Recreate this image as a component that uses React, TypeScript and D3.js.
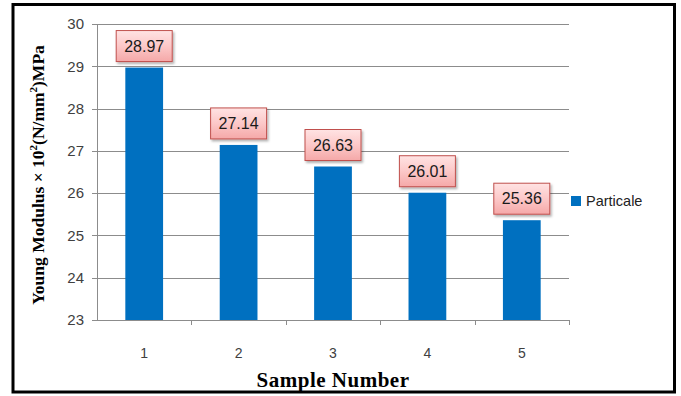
import React from "react";
import * as d3 from "d3";

const categories = ["1", "2", "3", "4", "5"];
const values = [28.97, 27.14, 26.63, 26.01, 25.36];
const yTicks = [23, 24, 25, 26, 27, 28, 29, 30];
const seriesName = "Particale";

const W = 681;
const H = 396;
const plot = { left: 97, right: 569, top: 24, bottom: 320 };

export default function App() {
  const x = d3
    .scaleBand<string>()
    .domain(categories)
    .range([plot.left, plot.right])
    .paddingInner(0.6)
    .paddingOuter(0.3);
  const band = d3.scaleBand<string>().domain(categories).range([plot.left, plot.right]);
  const y = d3.scaleLinear().domain([23, 30]).range([plot.bottom, plot.top]);

  const boxW = 56;
  const boxH = 31;

  return (
    <svg
      width={W}
      height={H}
      style={{ position: "absolute", left: 0, top: 0, background: "#fff" }}
    >
      <defs>
        <linearGradient id="lblFill" x1="0" y1="0" x2="0" y2="1">
          <stop offset="0" stopColor="#FFE3E3" />
          <stop offset="0.5" stopColor="#FCC8C8" />
          <stop offset="1" stopColor="#F5A8A8" />
        </linearGradient>
        <filter id="lblShadow" x="-20%" y="-20%" width="150%" height="160%">
          <feDropShadow dx="1.5" dy="2" stdDeviation="1.2" floodColor="#000" floodOpacity="0.3" />
        </filter>
      </defs>

      {/* outer frame */}
      <rect x={13} y={4.5} width={661.5} height={387.5} fill="none" stroke="#000" strokeWidth={3} />

      {/* horizontal gridlines + y ticks */}
      {yTicks.map((t) => (
        <g key={t}>
          <line
            x1={plot.left - 5}
            x2={plot.right}
            y1={Math.round(y(t)) + 0.5}
            y2={Math.round(y(t)) + 0.5}
            stroke="#8C8C8C"
            strokeWidth={1}
          />
          <text
            x={84}
            y={y(t)}
            dy="0.35em"
            textAnchor="end"
            fontFamily="Liberation Sans, Arial, sans-serif"
            fontSize={15}
            fill="#404040"
          >
            {t}
          </text>
        </g>
      ))}

      {/* y axis line */}
      <line x1={plot.left + 0.5} x2={plot.left + 0.5} y1={plot.top} y2={plot.bottom} stroke="#8C8C8C" />

      {/* bars */}
      {categories.map((c, i) => (
        <rect
          key={c}
          x={x(c)}
          y={y(values[i])}
          width={x.bandwidth()}
          height={y(23) - y(values[i])}
          fill="#0070C0"
        />
      ))}

      {/* x axis + ticks */}
      <line x1={plot.left} x2={plot.right} y1={plot.bottom + 0.5} y2={plot.bottom + 0.5} stroke="#8C8C8C" />
      {categories.map((c) => (
        <line
          key={c}
          x1={Math.round((band(c) as number) + band.bandwidth()) + 0.5}
          x2={Math.round((band(c) as number) + band.bandwidth()) + 0.5}
          y1={plot.bottom}
          y2={plot.bottom + 5}
          stroke="#8C8C8C"
        />
      ))}
      {categories.map((c) => (
        <text
          key={c}
          x={(band(c) as number) + band.bandwidth() / 2}
          y={358}
          textAnchor="middle"
          fontFamily="Liberation Sans, Arial, sans-serif"
          fontSize={14}
          fill="#404040"
        >
          {c}
        </text>
      ))}

      {/* value labels */}
      {categories.map((c, i) => {
        const cx = (x(c) as number) + x.bandwidth() / 2;
        const top = y(values[i]) - 6 - boxH;
        return (
          <g key={c}>
            <rect
              x={cx - boxW / 2}
              y={top}
              width={boxW}
              height={boxH}
              fill="url(#lblFill)"
              stroke="#C0504D"
              strokeWidth={1}
              filter="url(#lblShadow)"
            />
            <text
              x={cx}
              y={top + boxH / 2}
              dy="0.36em"
              textAnchor="middle"
              fontFamily="Liberation Sans, Arial, sans-serif"
              fontSize={16}
              fill="#1a1a1a"
            >
              {values[i].toFixed(2)}
            </text>
          </g>
        );
      })}

      {/* legend */}
      <rect x={571} y={196} width={10} height={10} fill="#0070C0" />
      <text
        x={586}
        y={201}
        dy="0.36em"
        fontFamily="Liberation Sans, Arial, sans-serif"
        fontSize={14.5}
        fill="#222"
      >
        {seriesName}
      </text>

      {/* axis titles */}
      <text
        x={333}
        y={387}
        textAnchor="middle"
        fontFamily="Liberation Serif, Times New Roman, serif"
        fontWeight="bold"
        fontSize={21}
        letterSpacing={0.5}
        fill="#000"
      >
        Sample Number
      </text>
      <text
        transform="translate(44,175) rotate(-90)"
        textAnchor="middle"
        fontFamily="Liberation Serif, Times New Roman, serif"
        fontWeight="bold"
        fontSize={17.5}
        fill="#000"
      >
        Young Modulus × 10
        <tspan fontSize={11} dy={-7}>2</tspan>
        <tspan dy={7}>(N/mm</tspan>
        <tspan fontSize={11} dy={-7}>2</tspan>
        <tspan dy={7}>)MPa</tspan>
      </text>
    </svg>
  );
}
